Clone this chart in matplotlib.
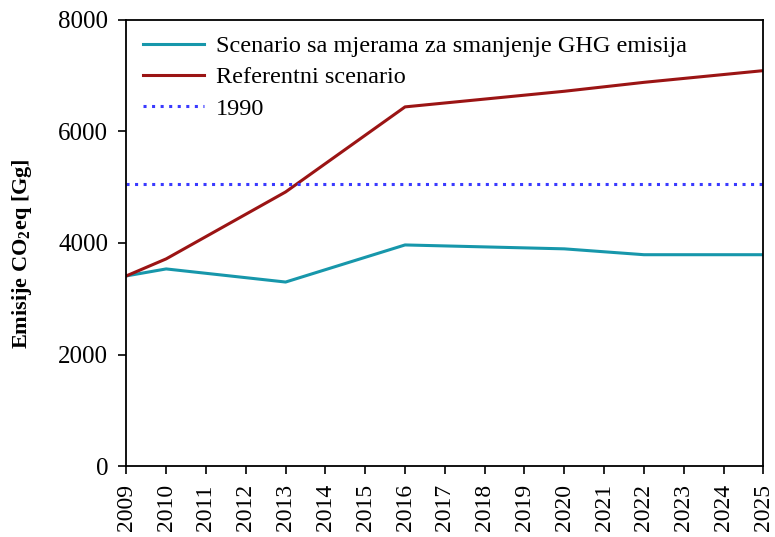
"""Emisije CO2eq: referentni scenario vs. scenario sa mjerama."""

import matplotlib

matplotlib.use("Agg")
import matplotlib.pyplot as plt

plt.rcParams["font.family"] = ["Liberation Serif", "DejaVu Serif"]
plt.rcParams["mathtext.fontset"] = "custom"
plt.rcParams["mathtext.rm"] = "Liberation Serif"
plt.rcParams["mathtext.bf"] = "Liberation Serif:bold"

years = [2009, 2010, 2013, 2016, 2020, 2022, 2025]
mjere = [3410, 3535, 3300, 3965, 3895, 3790, 3790]
referentni = [3410, 3715, 4915, 6440, 6720, 6880, 7090]
baseline_1990 = 5065
x_ticks = list(range(2009, 2026))
y_ticks = [0, 2000, 4000, 6000, 8000]

fig = plt.figure(figsize=(7.75, 5.37), dpi=100)
ax = fig.add_axes([0.163, 0.132, 0.822, 0.831])

ax.plot(years, mjere, color="#1797AB", lw=2.2,
        label="Scenario sa mjerama za smanjenje GHG emisija")
ax.plot(years, referentni, color="#9B1414", lw=2.2, label="Referentni scenario")
ax.axhline(baseline_1990, color="#3A3AFF", lw=2.2, ls=(0, (1, 1.8)), label="1990")

ax.set_xlim(2009, 2025)
ax.set_ylim(0, 8000)
ax.set_xticks(x_ticks)
ax.set_xticklabels([str(y) for y in x_ticks], rotation=90)
ax.set_yticks(y_ticks)
ax.tick_params(direction="out", length=6, width=1.2, pad=7)
ax.tick_params(axis="y", labelsize=18)
ax.tick_params(axis="x", labelsize=17)
for s in ax.spines.values():
    s.set_linewidth(1.3)

ax.set_ylabel(r"Emisije CO$_\mathbf{2}$eq [Gg]", fontsize=16, fontweight="bold")
ax.yaxis.set_label_coords(-0.145, 0.475)

ax.legend(loc="upper left", bbox_to_anchor=(0.026, 0.966), frameon=False,
          fontsize=17.5, handlelength=2.5, labelspacing=0.38,
          borderaxespad=0, borderpad=0, handletextpad=0.5)

fig.savefig("out.png", dpi=100)
